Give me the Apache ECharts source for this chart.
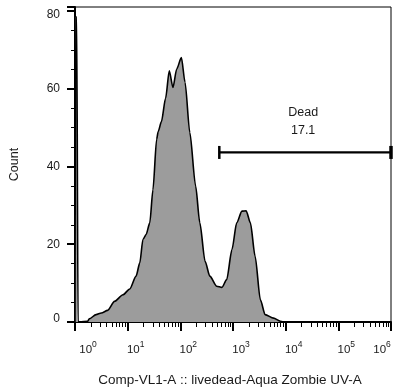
<!DOCTYPE html>
<html>
<head>
<meta charset="utf-8">
<script src="https://cdn.jsdelivr.net/npm/echarts@6/dist/echarts.min.js"></script>
<style>
  html, body { margin: 0; padding: 0; background: #ffffff; }
  #chart { width: 393px; height: 388px; }
</style>
</head>
<body>
<div id="chart"></div>
<script>
// Live/dead histogram: x is log10 of Comp-VL1-A intensity (decades), y is event count
const decades = [
  0.00, 0.012, 0.032, 0.058, 0.09, 0.24, 0.27, 0.40, 0.50, 0.62, 0.75, 0.91,
  1.04, 1.16, 1.23, 1.29, 1.35, 1.42, 1.48, 1.55, 1.58, 1.64,
  1.72, 1.79, 1.86, 1.93, 2.02, 2.09, 2.18, 2.29, 2.37, 2.47,
  2.56, 2.69, 2.79, 2.88, 2.98, 3.07, 3.17, 3.25, 3.33, 3.42,
  3.52, 3.61, 3.77, 3.90, 3.96
];
const counts = [
  0.0, 78.4, 78.4, 0.2, 0.0, 0.2, 0.8, 1.9, 2.3, 3.0, 5.3, 7.0,
  8.5, 11.8, 15.2, 21.2, 22.5, 25.5, 34.0, 47.0, 49.0, 51.5,
  57.5, 64.6, 60.3, 65.0, 68.0, 61.6, 48.7, 35.0, 25.5, 15.6,
  11.8, 9.2, 8.9, 10.9, 18.6, 25.5, 28.5, 28.6, 25.5, 16.9,
  5.7, 1.9, 1.0, 0.2, 0.0
];

// axis ticks
const majorDecades = [0, 1, 2, 3, 4, 5, 6];
const yTickValues = [0, 20, 40, 60, 80];

// gate "Dead"
const gateName = 'Dead';
const gatePercent = '17.1';
const gateStart = 2.74;
const gateEnd = 6;
const gateLevel = 43.6;

// minor log ticks at 2..9 x 10^n
const minorDecades = [];
for (let n = 0; n < 6; n++) {
  for (let k = 2; k <= 9; k++) minorDecades.push(n + Math.log10(k));
}

const histData = decades.map((d, i) => [d, counts[i]]);
const fontFamily = 'Liberation Sans, Arial, sans-serif';
const textColor = '#1a1a1a';

const chart = echarts.init(document.getElementById('chart'), null, { renderer: 'canvas' });

chart.setOption({
  animation: false,
  backgroundColor: '#ffffff',
  grid: {
    left: 75, top: 7, width: 316, height: 315,
    containLabel: false, outerBoundsMode: 'none',
    show: true, borderColor: '#000000', borderWidth: 1, backgroundColor: 'transparent'
  },
  xAxis: [
    {
      type: 'value', min: 0, max: 6, interval: 1,
      name: 'Comp-VL1-A :: livedead-Aqua Zombie UV-A',
      nameLocation: 'middle', nameGap: 51,
      nameTextStyle: { fontFamily, fontSize: 13.5, color: textColor, padding: [0, 6, 0, 0] },
      axisLine: { show: true, onZero: false, lineStyle: { color: '#000000', width: 2 } },
      axisTick: { show: true, inside: false, length: 9, lineStyle: { color: '#000000', width: 2 } },
      splitLine: { show: false },
      axisLabel: {
        margin: 18,
        showMinLabel: true, showMaxLabel: true,
        formatter: function (v) {
          const n = Math.round(v);
          if (n === 0) return '{b0|10}{s|0}';
          if (n === 6) return '{b|10}{s6|6}';
          return '{b1|10}{s|' + n + '}';
        },
        rich: {
          b0: { fontFamily, fontSize: 11.5, color: textColor, lineHeight: 20, padding: [0, 0, 0, 26] },
          b1: { fontFamily, fontSize: 11.5, color: textColor, lineHeight: 20, padding: [0, 0, 0, 16] },
          b: { fontFamily, fontSize: 11.5, color: textColor, lineHeight: 20 },
          s: { fontFamily, fontSize: 8.5, color: textColor, lineHeight: 6, verticalAlign: 'top' },
          s6: { fontFamily, fontSize: 8.5, color: textColor, lineHeight: 6, verticalAlign: 'top', padding: [0, 18, 0, 0] }
        }
      }
    },
    {
      type: 'value', min: 0, max: 6, position: 'bottom', gridIndex: 0,
      axisLine: { show: false },
      axisLabel: { show: false },
      splitLine: { show: false },
      axisTick: {
        show: true, inside: false, length: 5,
        customValues: minorDecades,
        lineStyle: { color: '#000000', width: 1 }
      }
    }
  ],
  yAxis: {
    type: 'value', min: 0, max: 81, interval: 20,
    name: 'Count', nameLocation: 'middle', nameGap: 54,
    nameTextStyle: { fontFamily, fontSize: 12.5, color: textColor },
    axisLine: { show: true, lineStyle: { color: '#000000', width: 2 } },
    axisTick: { show: true, inside: false, length: 8, lineStyle: { color: '#000000', width: 2 } },
    minorTick: { show: true, splitNumber: 4, length: 4, lineStyle: { color: '#000000', width: 1 } },
    splitLine: { show: false },
    minorSplitLine: { show: false },
    axisLabel: {
      margin: 15,
      formatter: function (v) {
        if (v === 80) return '{t80|80}';
        if (v === 0) return '{t0|0}';
        return '{t|' + v + '}';
      },
      rich: {
        t: { fontFamily, fontSize: 12, color: textColor },
        t80: { fontFamily, fontSize: 12, color: textColor, padding: [8, 0, 0, 0] },
        t0: { fontFamily, fontSize: 12, color: textColor, padding: [0, 0, 7, 0] }
      }
    }
  },
  series: [
    {
      type: 'line',
      xAxisIndex: 0,
      data: histData,
      smooth: 0.25,
      smoothMonotone: 'x',
      symbol: 'none',
      lineStyle: { color: '#000000', width: 1.6 },
      areaStyle: { color: '#9c9c9c', opacity: 1 },
      z: 2
    },
    {
      type: 'custom',
      xAxisIndex: 0,
      clip: false,
      data: [[gateStart, gateEnd, gateLevel]],
      renderItem: function (params, api) {
        const a = api.coord([api.value(0), api.value(2)]);
        const b = api.coord([api.value(1), api.value(2)]);
        const cx = (a[0] + b[0]) / 2;
        return {
          type: 'group',
          children: [
            { type: 'line', shape: { x1: a[0], y1: a[1], x2: b[0], y2: b[1] }, style: { stroke: '#000000', lineWidth: 2.2 } },
            { type: 'line', shape: { x1: a[0], y1: a[1] - 6.5, x2: a[0], y2: a[1] + 6.5 }, style: { stroke: '#000000', lineWidth: 2.5 } },
            { type: 'line', shape: { x1: b[0], y1: b[1] - 6.5, x2: b[0], y2: b[1] + 6.5 }, style: { stroke: '#000000', lineWidth: 3.5 } },
            { type: 'text', style: { x: cx - 2, y: a[1] - 40, text: gateName, fontFamily, fontSize: 12.5, fill: textColor, align: 'center', verticalAlign: 'middle' } },
            { type: 'text', style: { x: cx - 2, y: a[1] - 22, text: gatePercent, fontFamily, fontSize: 12.5, fill: textColor, align: 'center', verticalAlign: 'middle' } }
          ]
        };
      },
      z: 5
    }
  ]
});
</script>
</body>
</html>
